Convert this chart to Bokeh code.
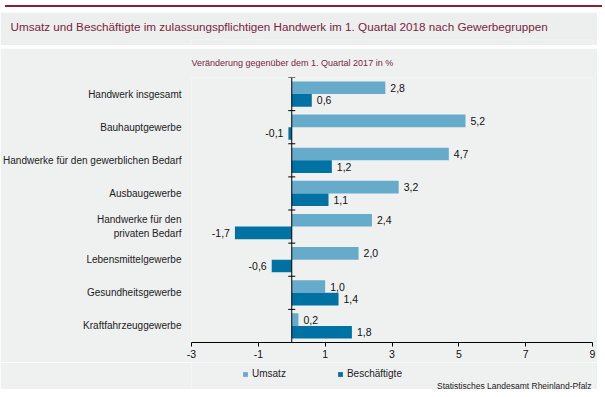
from bokeh.plotting import figure
from bokeh.models import (Range1d, FixedTicker, Span, Legend, LegendItem, Label,
                          ColumnDataSource, Title, Div, Spacer)
from bokeh.layouts import column
from bokeh.embed import file_html
from bokeh.resources import INLINE
from bokeh.core.properties import value

# ---- data ----
categories = [
    "Handwerk insgesamt",
    "Bauhauptgewerbe",
    "Handwerke für den gewerblichen Bedarf",
    "Ausbaugewerbe",
    "Handwerke für den\nprivaten Bedarf",
    "Lebensmittelgewerbe",
    "Gesundheitsgewerbe",
    "Kraftfahrzeuggewerbe",
]
umsatz = [2.8, 5.2, 4.7, 3.2, 2.4, 2.0, 1.0, 0.2]
beschaeftigte = [0.6, -0.1, 1.2, 1.1, -1.7, -0.6, 1.4, 1.8]
series_names = ["Umsatz", "Beschäftigte"]
x_ticks = [-3, -1, 1, 3, 5, 7, 9]

title_text = "Umsatz und Beschäftigte im zulassungspflichtigen Handwerk im 1. Quartal 2018 nach Gewerbegruppen"
subtitle_text = "Veränderung gegenüber dem 1. Quartal 2017 in %"
source_text = "Statistisches Landesamt Rheinland-Pfalz"

# ---- styling ----
FONT = "Liberation Sans"
C_UMSATZ = "#67ABCA"
C_BESCH = "#0071A3"
C_TITLE = "#7A1F40"
C_BAR_TOP = "#8A1C34"
BG_TITLE = "#EDEEEE"
BG_CHART = "#EFF0F0"
W = 597
LEFT = 182
RIGHT = 5

n = len(categories)
centers = [n - i - 0.5 for i in range(n)]
OFF = 0.19
BH = 0.38


def fmt(v):
    return f"{v:.1f}".replace(".", ",")


def bare(fig, bg):
    fig.min_border = 0
    fig.min_border_left = LEFT
    fig.min_border_right = RIGHT
    fig.border_fill_color = bg
    fig.background_fill_color = bg
    fig.outline_line_color = None
    fig.grid.visible = False


# ---- top red bar ----
bar = Div(text="", width=W, height=2, styles={"background-color": C_BAR_TOP})

# ---- title band ----
t = figure(width=W, height=33, output_backend="svg", toolbar_location=None,
           x_axis_location=None, y_axis_location=None,
           x_range=Range1d(0, 1), y_range=Range1d(0, 1))
bare(t, BG_TITLE)
t.add_layout(Title(text=title_text, align="left", offset=-(LEFT - 1),
                   vertical_align="middle", standoff=12,
                   text_font=FONT, text_font_size="11.7px", text_font_style="normal",
                   text_color=C_TITLE), "above")

# ---- chart ----
p = figure(width=W, height=314, output_backend="svg", toolbar_location=None,
           x_range=Range1d(x_ticks[0], x_ticks[-1]), y_range=Range1d(0, n))
p.min_border_left = LEFT
p.min_border_right = RIGHT
p.min_border_top = 29
p.min_border_bottom = 20
p.background_fill_color = BG_CHART
p.border_fill_color = BG_CHART
p.outline_line_color = None
p.grid.visible = False

src_u = ColumnDataSource(dict(
    y=[c + OFF for c in centers], v=umsatz,
    lab=[fmt(v) for v in umsatz],
    align=["left" if v >= 0 else "right" for v in umsatz],
    xo=[5 if v >= 0 else -5 for v in umsatz],
))
src_b = ColumnDataSource(dict(
    y=[c - OFF for c in centers], v=beschaeftigte,
    lab=[fmt(v) for v in beschaeftigte],
    align=["left" if v >= 0 else "right" for v in beschaeftigte],
    xo=[5 if v >= 0 else -5 for v in beschaeftigte],
))

p.hbar(y="y", left=0, right="v", height=BH, source=src_u,
       fill_color=C_UMSATZ, line_color=None)
p.hbar(y="y", left=0, right="v", height=BH, source=src_b,
       fill_color=C_BESCH, line_color=None)

for s in (src_u, src_b):
    p.text(x="v", y="y", text="lab", source=s, x_offset="xo", text_align="align",
           text_baseline="middle", text_font=value(FONT), text_font_size="10.5px",
           text_color="#111111")

# zero line and category boundary ticks
p.add_layout(Span(location=0, dimension="height", line_color="black", line_width=1))
p.dash(x=[0] * (n + 1), y=list(range(n + 1)), size=7, line_color="black", line_width=1)

# x axis
xa = p.xaxis[0]
xa.ticker = FixedTicker(ticks=x_ticks)
xa.major_label_overrides = {t_: str(t_) for t_ in x_ticks}
xa.axis_line_color = "black"
xa.major_tick_line_color = "black"
xa.major_tick_out = 4
xa.major_tick_in = 0
xa.minor_tick_line_color = None
xa.major_label_standoff = 3
xa.major_label_text_font = FONT
xa.major_label_text_font_size = "10.5px"
xa.major_label_text_color = "#111111"

# y axis (category labels)
ya = p.yaxis[0]
ya.ticker = FixedTicker(ticks=centers)
ya.major_label_overrides = {c: lab for c, lab in zip(centers, categories)}
ya.axis_line_color = None
ya.major_tick_line_color = None
ya.minor_tick_line_color = None
ya.major_label_standoff = 4
ya.major_label_text_font = FONT
ya.major_label_text_font_size = "10px"
ya.major_label_text_color = "#222222"

# subtitle
p.add_layout(Title(text=subtitle_text, align="left", offset=0, vertical_align="middle",
                   standoff=17, text_font=FONT, text_font_size="9px",
                   text_font_style="normal", text_color=C_TITLE), "above")

# ---- legend + source strip ----
b = figure(width=W, height=27, output_backend="svg", toolbar_location=None,
           x_axis_location=None, y_axis_location=None,
           x_range=Range1d(0, 1), y_range=Range1d(0, 1))
bare(b, BG_CHART)
# legend keys only (zero-length bars, nothing visible in the strip)
lg_u = b.hbar(y=[0.5], left=[0], right=[0], height=0.5, fill_color=C_UMSATZ, line_color=None)
lg_b = b.hbar(y=[0.5], left=[0], right=[0], height=0.5, fill_color=C_BESCH, line_color=None)
legend = Legend(items=[LegendItem(label=series_names[0], renderers=[lg_u]),
                       LegendItem(label=series_names[1], renderers=[lg_b])],
                orientation="horizontal", location=(51, 10),
                glyph_width=6, glyph_height=6, label_standoff=4, spacing=51,
                padding=0, margin=0, border_line_color=None,
                background_fill_alpha=0, label_text_font=FONT,
                label_text_font_size="10px", label_text_color="#222222")
b.add_layout(legend, "center")
b.add_layout(Label(x=1, y=4, x_units="data", y_units="screen", x_offset=-1,
                   text=source_text, text_font=FONT, text_font_size="8.5px",
                   text_color="#222222", text_align="right", text_baseline="middle"))

layout = column(bar, t, Spacer(height=3), p, b)
open("out.html", "w").write(file_html(layout, INLINE))
